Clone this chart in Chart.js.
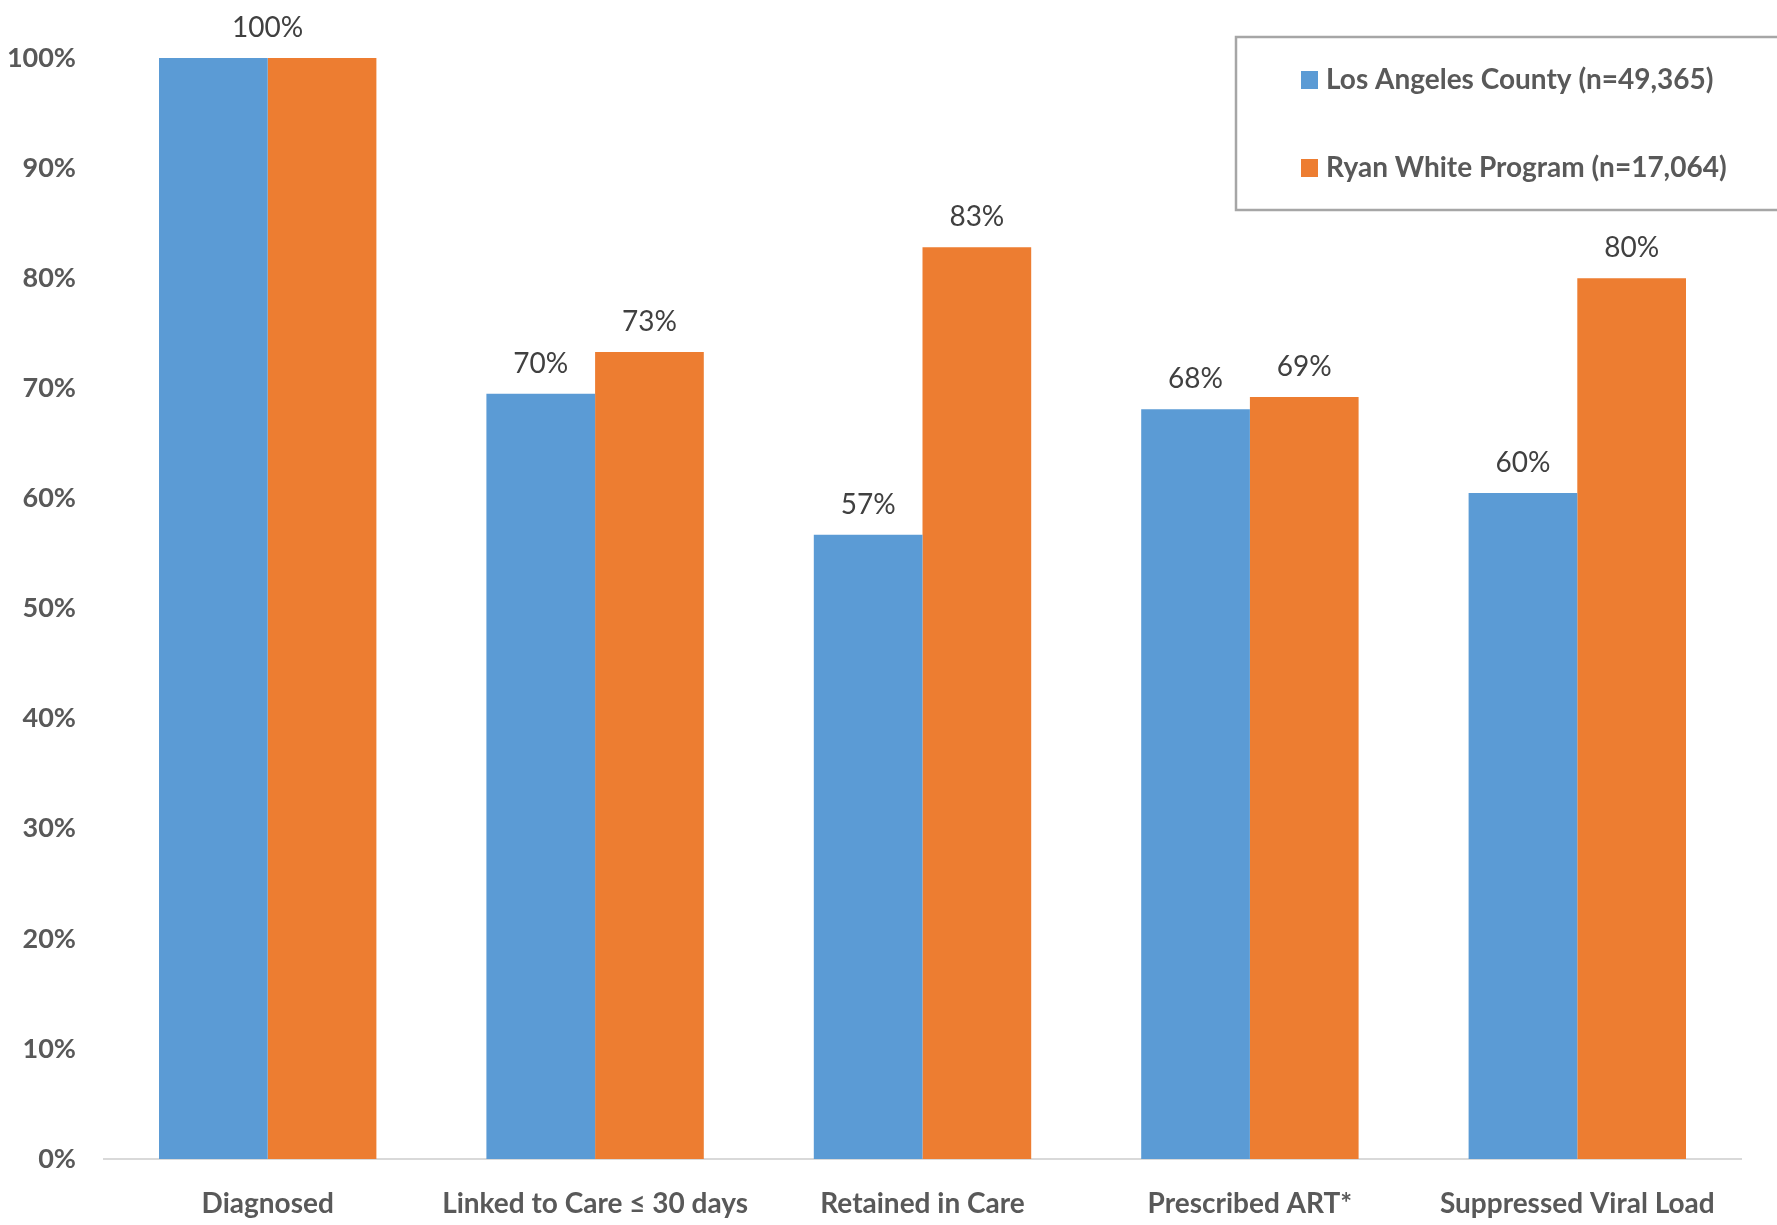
<!DOCTYPE html>
<html>
<head>
<meta charset="utf-8">
<script src="https://cdn.jsdelivr.net/npm/chart.js@4.4.1/dist/chart.umd.min.js"></script>
<style>
html,body{margin:0;padding:0;background:#fff;}
#wrap{width:1777px;height:1225px;position:relative;}
</style>
</head>
<body>
<div id="wrap"><canvas id="c" width="1777" height="1225"></canvas></div>
<script>
const categories = ["Diagnosed", "Linked to Care \u2264 30 days", "Retained in Care", "Prescribed ART*", "Suppressed Viral Load"];
const laCounty = [100, 69.5, 56.7, 68.1, 60.5];
const ryanWhite = [100, 73.3, 82.8, 69.2, 80.0];
const laLabels = ["", "70%", "57%", "68%", "60%"];
const rwLabels = ["100%", "73%", "83%", "69%", "80%"];
const seriesNames = ["Los Angeles County (n=49,365)", "Ryan White Program (n=17,064)"];
const yTicks = [0,10,20,30,40,50,60,70,80,90,100];

const FONT = "Lato, 'Open Sans', sans-serif";
const BLUE = "#5B9BD5", ORANGE = "#ED7D31";

const dataLabelPlugin = {
  id: 'dataLabels',
  afterDatasetsDraw(chart) {
    const ctx = chart.ctx;
    const lbls = [laLabels, rwLabels];
    ctx.save();
    ctx.font = "28px " + FONT;
    ctx.fillStyle = "#404040";
    ctx.textAlign = "center";
    ctx.textBaseline = "middle";
    chart.data.datasets.forEach((ds, di) => {
      chart.getDatasetMeta(di).data.forEach((bar, i) => {
        const t = lbls[di][i];
        if (!t) return;
        let x = bar.x;
        if (i === 0) x = (chart.getDatasetMeta(0).data[0].x + chart.getDatasetMeta(1).data[0].x) / 2;
        ctx.fillText(t, x, bar.y - 30);
      });
    });
    ctx.restore();
  }
};

const boxLegendPlugin = {
  id: 'boxLegend',
  afterDraw(chart) {
    const ctx = chart.ctx;
    ctx.save();
    ctx.strokeStyle = "#a6a6a6";
    ctx.lineWidth = 2.5;
    ctx.strokeRect(1236, 37, 560, 173);
    const rows = [80, 168];
    ctx.font = "bold 28px " + FONT;
    ctx.textBaseline = "middle";
    ctx.textAlign = "left";
    chart.data.datasets.forEach((ds, di) => {
      ctx.fillStyle = ds.backgroundColor;
      ctx.fillRect(1301, rows[di] - 9, 17, 18);
      ctx.fillStyle = "#595959";
      ctx.fillText(ds.label, 1326, rows[di]);
    });
    ctx.restore();
  }
};

new Chart(document.getElementById('c'), {
  type: 'bar',
  data: {
    labels: categories,
    datasets: [
      { label: seriesNames[0], data: laCounty, backgroundColor: BLUE, barPercentage: 1.0, categoryPercentage: 0.664 },
      { label: seriesNames[1], data: ryanWhite, backgroundColor: ORANGE, barPercentage: 1.0, categoryPercentage: 0.664 }
    ]
  },
  options: {
    responsive: false,
    animation: false,
    devicePixelRatio: 1,
    layout: { padding: { top: 58, right: 36, left: 0, bottom: 0 } },
    plugins: { legend: { display: false }, tooltip: { enabled: false } },
    scales: {
      x: {
        grid: { display: false, drawTicks: false },
        border: { display: true, color: "#d9d9d9", width: 2 },
        ticks: { color: "#595959", font: { family: FONT, size: 28, weight: 'bold' }, padding: 28, maxRotation: 0, autoSkip: false },
        afterFit(s) { s.height = 66; }
      },
      y: {
        min: 0, max: 100,
        afterBuildTicks(s) { s.ticks = yTicks.map(v => ({ value: v })); },
        grid: { display: false, drawTicks: false },
        border: { display: false },
        ticks: { color: "#595959", font: { family: FONT, size: 27, weight: 'bold' }, padding: 28, callback: v => v + "%" },
        afterFit(s) { s.width = 104; }
      }
    }
  },
  plugins: [dataLabelPlugin, boxLegendPlugin]
});
</script>
</body>
</html>
